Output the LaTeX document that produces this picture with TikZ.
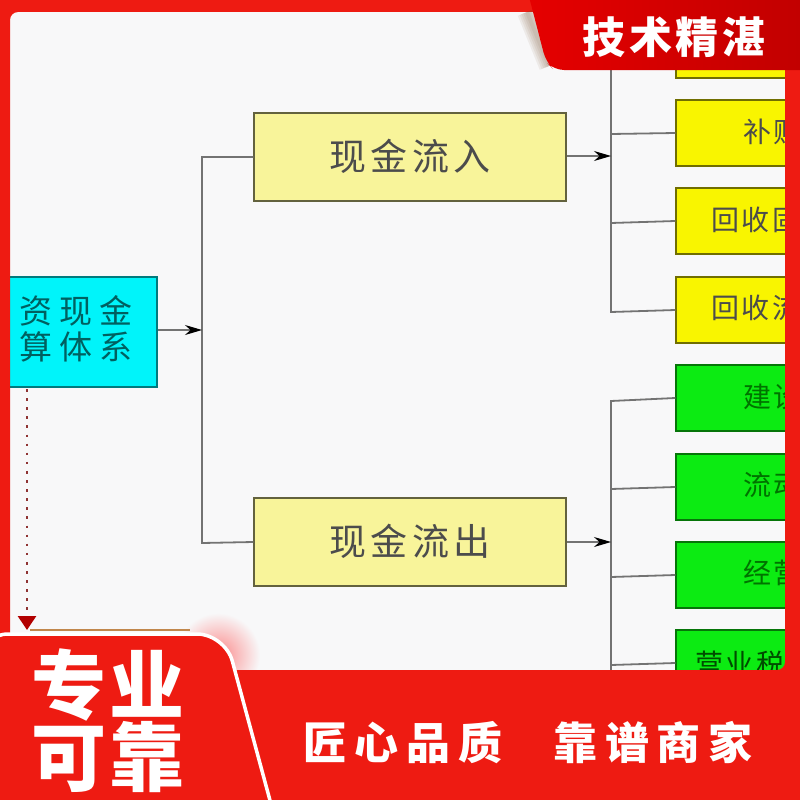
\documentclass[tikz,border=0pt]{standalone}
\usepackage{fontspec}
\setmainfont{Noto Sans CJK SC}
\usetikzlibrary{arrows.meta}
\definecolor{bandred}{HTML}{EE1B12}
\definecolor{pagebg}{HTML}{F8F8F9}
\definecolor{cyanbox}{HTML}{00F4FA}
\definecolor{paleyel}{HTML}{F8F49A}
\definecolor{brightyel}{HTML}{F9F500}
\definecolor{brightgrn}{HTML}{0CEB12}
\tikzset{
  x=1pt,y=-1pt,
  boxbase/.style={rectangle,inner sep=0pt,line width=1.3pt},
  flowbox/.style={boxbase,draw=black!60!paleyel,fill=paleyel,minimum width=312pt,minimum height=88pt},
  startbox/.style={boxbase,draw=cyanbox!50!black,fill=cyanbox,minimum width=160pt,minimum height=110pt},
  yelbox/.style={boxbase,draw=brightyel!45!black,fill=brightyel,minimum width=130pt,minimum height=66pt},
  grnbox/.style={boxbase,draw=brightgrn!50!black,fill=brightgrn,minimum width=130pt,minimum height=66pt},
  flowtxt/.style={inner sep=0pt,text=black!70,font=\fontsize{37}{37}\selectfont\addfontfeature{LetterSpace=11}},
  boxtxt/.style={inner sep=0pt,anchor=west,font=\fontsize{28}{28}\selectfont\addfontfeature{LetterSpace=10}},
  trunk/.style={draw=black!55,line width=1.8pt},
  feed/.style={draw=black!55,line width=1.2pt,-{Stealth[black,length=17pt,width=10pt]}},
  badgetxt/.style={inner sep=0pt,text=white,font=\bfseries\fontsize{43}{43}\selectfont\addfontfeature{LetterSpace=9}},
  bigtxt/.style={inner sep=0pt,text=white,font=\bfseries\fontsize{75}{75}\selectfont\addfontfeature{LetterSpace=4}},
  slogan/.style={inner sep=0pt,text=white,font=\bfseries\fontsize{44}{44}\selectfont\addfontfeature{LetterSpace=18}},
}
\begin{document}
\begin{tikzpicture}
\useasboundingbox (0,0) rectangle (800,800);
\fill[pagebg] (0,0) rectangle (800,800);

% boxes
\node[startbox] (start) at (77,332) {};
\node[inner sep=0pt,text=teal!75!black,align=center,font=\fontsize{33}{36}\selectfont\addfontfeature{LetterSpace=21}] (starttxt) at (76,329) {资现金\\算体系};
\node[flowbox] (inflow) at (410,157) {};
\node[flowbox] (outflow) at (410,542) {};
\node[flowtxt] (inflowtxt) at (410,156) {现金流入};
\node[flowtxt] (outflowtxt) at (410,541) {现金流出};

\node[yelbox] (y0) at (741,45) {};
\node[yelbox] (y1) at (741,133) {};
\node[yelbox] (y2) at (741,221) {};
\node[yelbox] (y3) at (741,310) {};
\node[grnbox] (g1) at (741,398) {};
\node[grnbox] (g2) at (741,487) {};
\node[grnbox] (g3) at (741,575) {};
\node[grnbox] (g4) at (741,663) {};

\node[boxtxt,text=black!70] (t1) at (743,132) {补贴};
\node[boxtxt,text=black!70] (t2) at (711,220) {回收固};
\node[boxtxt,text=black!70] (t3) at (711,308) {回收流};
\node[boxtxt,text=green!45!black] (t4) at (743,397) {建设};
\node[boxtxt,text=green!45!black] (t5) at (743,485) {流动};
\node[boxtxt,text=green!45!black] (t6) at (743,573) {经营};
\node[boxtxt,text=green!30!black] (t7) at (695,664) {营业税};

% trunk ends
\coordinate (ltop) at (202,157);
\coordinate (lbot) at (202,543);
\coordinate (lmid) at (202,330);
\coordinate (r1top) at (611,70);
\coordinate (r1bot) at (611,312);
\coordinate (r1mid) at (611,156);
\coordinate (r2top) at (611,401);
\coordinate (r2bot) at (611,680);
\coordinate (r2mid) at (611,542);
\coordinate (j1) at (611,134);
\coordinate (j2) at (611,223);
\coordinate (j5) at (611,489);
\coordinate (j6) at (611,577);
\coordinate (j7) at (611,665);
\coordinate (dotend) at (27,630);
\coordinate (dotstart) at (27,389);

% connectors
\draw[trunk] (inflow.west) -- (ltop) -- (lbot) -- (outflow.west);
\draw[trunk] (r1top) -- (r1bot) -- (y3.west);
\draw[trunk] (y1.west) -- (j1);
\draw[trunk] (y2.west) -- (j2);
\draw[trunk] (g1.west) -- (r2top) -- (r2bot);
\draw[trunk] (g2.west) -- (j5);
\draw[trunk] (g3.west) -- (j6);
\draw[trunk] (g4.west) -- (j7);
\draw[feed] (start.east |- lmid) -- (lmid);
\draw[feed] (inflow.east |- r1mid) -- (r1mid);
\draw[feed] (outflow.east |- r2mid) -- (r2mid);
\draw[draw=red!45!black!80,line width=2.6pt,dash pattern=on 2.6pt off 6.5pt,-{Triangle[red!70!black,length=14pt,width=18pt]}] (dotstart) -- (dotend);

% red frame
\fill[bandred,even odd rule] (0,0) rectangle (800,800)
  [rounded corners=8pt] (10,12) rectangle (785,670);

% top-right badge
\foreach \w in {20,16,12,8,4}{
  \draw[line width=\w pt,draw=brown!60!black,opacity=.08] (527,12) -- (549,66);
}
\shade[left color=red!90!black,right color=red!75!black,rounded corners=10pt]
  (526,-15) -- (546,62) -- (554,70) -- (820,70) -- (820,-15) -- cycle;
\node[badgetxt] (topbadge) at (674,37) {技术精湛};

% bottom-left badge glow
\shade[inner color=red!45!pagebg,outer color=pagebg] (218,655) circle[radius=42];
\fill[orange!65!black!70] (30,629) rectangle (190,631);
\fill[bandred] (0,670) rectangle (800,800);
\fill[bandred,draw=white,line width=3.5pt,rounded corners=28pt]
  (-20,634) -- (225,634) -- (278,830) -- (-20,830) -- cycle;
\node[bigtxt] (big1) at (108,685) {专业};
\node[bigtxt] (big2) at (108,757) {可靠};
\node[slogan] (s1) at (403,743) {匠心品质};
\node[slogan] (s2) at (653,743) {靠谱商家};
\end{tikzpicture}
\end{document}
